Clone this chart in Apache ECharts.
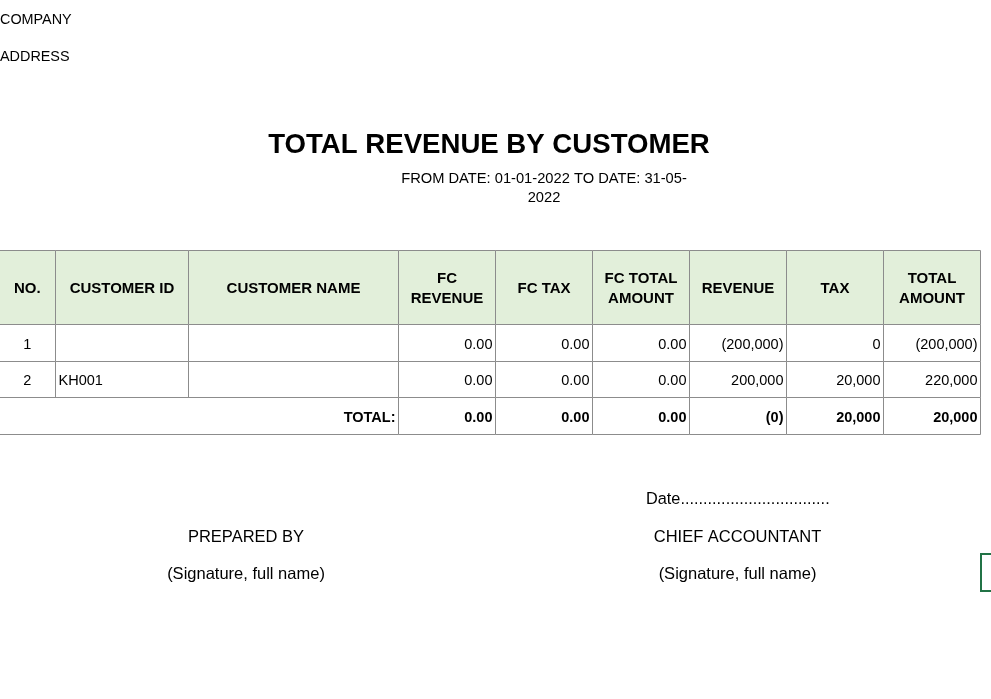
<!DOCTYPE html>
<html>
<head>
<meta charset="utf-8">
<script src="https://cdn.jsdelivr.net/npm/echarts@6/dist/echarts.min.js"></script>
<style>
html,body{margin:0;padding:0;background:#fff;}
#chart{width:991px;height:699px;}
</style>
</head>
<body>
<div id="chart"></div>
<script>
// ---- data ----
const headers = ['NO.', 'CUSTOMER ID', 'CUSTOMER NAME', 'FC\nREVENUE', 'FC TAX', 'FC TOTAL\nAMOUNT', 'REVENUE', 'TAX', 'TOTAL\nAMOUNT'];
const rowNumbers = ['1', '2'];
const customerIds = ['', 'KH001'];
const customerNames = ['', ''];
const fcRevenue = [0, 0];
const fcTax = [0, 0];
const fcTotalAmount = [0, 0];
const revenue = [-200000, 200000];
const tax = [0, 20000];
const totalAmount = [-200000, 220000];
const totalLabel = 'TOTAL:';
const totalValues = ['0.00', '0.00', '0.00', '(0)', '20,000', '20,000'];
const companyText = 'COMPANY';
const addressText = 'ADDRESS';
const titleText = 'TOTAL REVENUE BY CUSTOMER';
const subtitleLines = ['FROM DATE: 01-01-2022 TO DATE: 31-05-', '2022'];
const dateText = 'Date.................................';
const preparedBy = 'PREPARED BY';
const chiefAccountant = 'CHIEF ACCOUNTANT';
const signatureText = '(Signature, full name)';

// ---- layout ----
const colEdges = [-1, 55.5, 188.5, 398.5, 495.5, 592.5, 689.5, 786.5, 883.5, 980.5];
const rowEdges = [250.5, 324.5, 361.5, 397.5, 434.5];
const FONT = '"Liberation Sans", Arial, sans-serif';
const BORDER = '#8c8c8c';
const HEADER_FILL = '#e2efda';
const TEXT_DY = 1.5;

function fmtFC(v) { const s = Math.abs(v).toFixed(2); return v < 0 ? '(' + s + ')' : s; }
function fmtVND(v) { const s = Math.abs(v).toLocaleString('en-US'); return v < 0 ? '(' + s + ')' : s; }

const cells = [];
headers.forEach((h, c) => cells.push({c0: c, c1: c + 1, r: 0, text: h, align: 'center', bold: true, size: 15, fill: HEADER_FILL}));
rowNumbers.forEach((n, i) => {
  const r = i + 1;
  const vals = [
    [n, 'center'], [customerIds[i], 'left'], [customerNames[i], 'left'],
    [fmtFC(fcRevenue[i]), 'right'], [fmtFC(fcTax[i]), 'right'], [fmtFC(fcTotalAmount[i]), 'right'],
    [fmtVND(revenue[i]), 'right'], [fmtVND(tax[i]), 'right'], [fmtVND(totalAmount[i]), 'right']
  ];
  vals.forEach((v, c) => cells.push({c0: c, c1: c + 1, r, text: v[0], align: v[1], bold: false, size: 14.5, fill: '#fff'}));
});
const tr = rowNumbers.length + 1;
cells.push({c0: 0, c1: 3, r: tr, text: totalLabel, align: 'right', bold: true, size: 14.5, fill: '#fff'});
totalValues.forEach((t, k) => cells.push({c0: 3 + k, c1: 4 + k, r: tr, text: t, align: 'right', bold: true, size: 14.5, fill: '#fff'}));

const data = cells.map((cell, i) => [
  (colEdges[cell.c0] + colEdges[cell.c1]) / 2,
  (rowEdges[cell.r] + rowEdges[cell.r + 1]) / 2,
  i
]);

function renderItem(params, api) {
  const cell = cells[api.value(2)];
  const p0 = api.coord([colEdges[cell.c0], rowEdges[cell.r]]);
  const p1 = api.coord([colEdges[cell.c1], rowEdges[cell.r + 1]]);
  let tx;
  if (cell.align === 'left') tx = p0[0] + 3;
  else if (cell.align === 'right') tx = p1[0] - 3;
  else tx = (p0[0] + p1[0]) / 2;
  return {
    type: 'group',
    children: [
      {type: 'rect', shape: {x: p0[0], y: p0[1], width: p1[0] - p0[0], height: p1[1] - p0[1]},
       style: {fill: cell.fill, stroke: BORDER, lineWidth: 1}},
      {type: 'text', x: tx, y: (p0[1] + p1[1]) / 2 + TEXT_DY,
       style: {text: cell.text, align: cell.align, verticalAlign: 'middle',
               fontFamily: FONT, fontSize: cell.size, fontWeight: cell.bold ? 'bold' : 'normal',
               lineHeight: 20, fill: '#000'}}
    ]
  };
}

function txt(text, x, y, size, bold, align, lh) {
  return {type: 'text', x, y: y + TEXT_DY, silent: true,
    style: {text, fontFamily: FONT, fontSize: size, fontWeight: bold ? 'bold' : 'normal',
            fill: '#000', align: align || 'left', verticalAlign: 'middle', lineHeight: lh || size + 4}};
}

const chart = echarts.init(document.getElementById('chart'), null, {renderer: 'canvas'});
chart.setOption({
  animation: false,
  backgroundColor: '#fff',
  grid: {left: 0, right: 0, top: 0, bottom: 0},
  xAxis: {type: 'value', min: 0, max: 991, show: false},
  yAxis: {type: 'value', min: 0, max: 699, inverse: true, show: false},
  series: [{
    type: 'custom',
    silent: true,
    renderItem,
    data,
    encode: {x: 0, y: 1}
  }],
  graphic: [
    txt(companyText, 0, 18.5, 14.4, false),
    txt(addressText, 0, 55.5, 14.4, false),
    txt(titleText, 489, 143.5, 27.6, true, 'center'),
    txt(subtitleLines.join('\n'), 544, 186.5, 14.7, false, 'center', 19),
    txt(dateText, 646, 498.5, 16.3, false),
    txt(preparedBy, 246, 535.5, 16.5, false, 'center'),
    txt(signatureText, 246, 572.5, 16.5, false, 'center'),
    txt(chiefAccountant, 737.5, 535.5, 16.5, false, 'center'),
    txt(signatureText, 737.5, 572.5, 16.5, false, 'center'),
    {type: 'rect', silent: true, shape: {x: 981, y: 554, width: 20, height: 37},
     style: {fill: 'none', stroke: '#217346', lineWidth: 2}}
  ]
});
</script>
</body>
</html>
